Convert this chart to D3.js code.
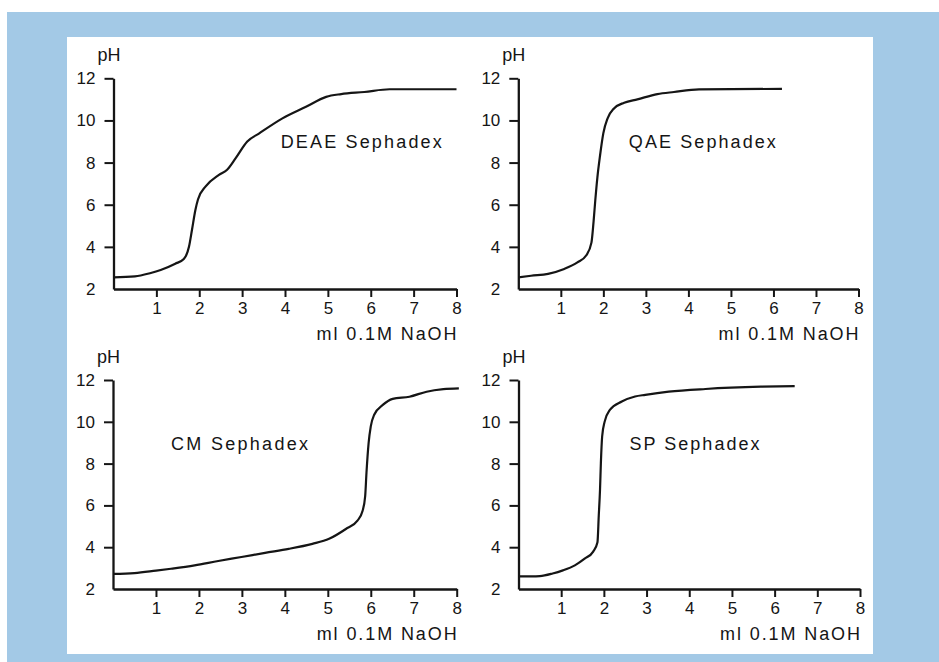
<!DOCTYPE html>
<html>
<head>
<meta charset="utf-8">
<script src="https://cdn.jsdelivr.net/npm/d3@7"></script>
<style>
  html, body { margin: 0; padding: 0; background: #ffffff; }
  svg { display: block; }
  text { font-family: "Liberation Sans", Arial, sans-serif; fill: #151515; }
</style>
</head>
<body>
<svg id="chart" width="939" height="662"></svg>
<script>
// ---- data ----
const panelNames = ["DEAE Sephadex", "QAE Sephadex", "CM Sephadex", "SP Sephadex"];
const xTicks = [1, 2, 3, 4, 5, 6, 7, 8];
const yTicks = [2, 4, 6, 8, 10, 12];
const xLabel = "ml 0.1M NaOH";
const yLabel = "pH";

const deaeML = [0, 0.5, 0.85, 1.1, 1.44, 1.64, 1.76, 1.83, 1.91, 1.97, 2.15, 2.46, 2.65, 2.85, 3.12, 3.4, 3.94, 4.49, 4.96, 5.31, 5.85, 6.44, 8.0];
const deaePH = [2.55, 2.6, 2.75, 2.9, 3.2, 3.42, 4.0, 4.8, 5.75, 6.25, 6.87, 7.42, 7.66, 8.21, 9.0, 9.39, 10.1, 10.65, 11.12, 11.25, 11.35, 11.48, 11.48];

const qaeML = [0, 0.3, 0.7, 1.08, 1.39, 1.6, 1.72, 1.77, 1.81, 1.86, 1.92, 2.0, 2.1, 2.25, 2.49, 2.8, 3.27, 3.66, 4.25, 6.2];
const qaePH = [2.55, 2.63, 2.72, 2.95, 3.26, 3.6, 4.2, 5.2, 6.2, 7.3, 8.3, 9.4, 10.1, 10.57, 10.84, 11.0, 11.25, 11.35, 11.47, 11.5];

const cmML = [0, 0.5, 1.0, 1.35, 1.9, 2.45, 2.99, 3.54, 4.09, 4.64, 5.03, 5.42, 5.69, 5.81, 5.87, 5.9, 5.95, 6.0, 6.08, 6.28, 6.51, 6.9, 7.3, 7.69, 8.05];
const cmPH = [2.72, 2.76, 2.88, 2.97, 3.13, 3.34, 3.53, 3.73, 3.92, 4.16, 4.4, 4.87, 5.27, 5.74, 6.45, 7.56, 8.99, 9.78, 10.34, 10.81, 11.1, 11.2, 11.44, 11.56, 11.6];

const spML = [0, 0.5, 0.8, 1.04, 1.32, 1.55, 1.75, 1.85, 1.88, 1.91, 1.93, 1.96, 2.02, 2.14, 2.42, 2.73, 2.97, 3.52, 4.38, 5.68, 6.47];
const spPH = [2.6, 2.62, 2.74, 2.89, 3.13, 3.45, 3.79, 4.24, 5.5, 6.77, 8.04, 9.31, 10.02, 10.57, 10.97, 11.21, 11.29, 11.44, 11.57, 11.68, 11.71];

const seriesML = [deaeML, qaeML, cmML, spML];
const seriesPH = [deaePH, qaePH, cmPH, spPH];

// label anchor positions in data units (left edge x, centre y)
const labelAt = [[3.9, 9.0], [2.6, 9.0], [1.35, 8.94], [2.6, 8.94]];

// ---- layout ----
const layout = [
  { x0: 113.5, x1: 456.5, yb: 289, yt: 78.3, nameW: 161 },
  { x0: 518.3, x1: 858.5, yb: 289, yt: 78.3, nameW: 147 },
  { x0: 113, x1: 456.7, yb: 589, yt: 380, nameW: 137 },
  { x0: 518.5, x1: 860, yb: 589, yt: 380, nameW: 130 }
];

const svg = d3.select("#chart");
svg.append("rect").attr("x", 7).attr("y", 12).attr("width", 932).attr("height", 650).attr("fill", "#a3c9e6");
svg.append("rect").attr("x", 67).attr("y", 37).attr("width", 806).attr("height", 617).attr("fill", "#ffffff");

const ink = "#151515";

panelNames.forEach((name, i) => {
  const L = layout[i];
  const x = d3.scaleLinear().domain([0, 8]).range([L.x0, L.x1]);
  const y = d3.scaleLinear().domain([2, 12]).range([L.yb, L.yt]);
  const g = svg.append("g");

  // x axis
  const xa = g.append("g")
    .attr("transform", `translate(0,${y(2)})`)
    .call(d3.axisBottom(x).tickValues(xTicks).tickSize(8).tickSizeOuter(0).tickPadding(5).tickFormat(d3.format("d")));
  // y axis
  const ya = g.append("g")
    .attr("transform", `translate(${x(0)},0)`)
    .call(d3.axisLeft(y).tickValues(yTicks).tickSize(9).tickSizeOuter(0).tickPadding(9).tickFormat(d3.format("d")));
  ya.selectAll(".tick").filter(d => d === 2).select("line").remove();

  [xa, ya].forEach(a => {
    a.select(".domain").attr("stroke", ink).attr("stroke-width", 2.3);
    a.selectAll(".tick line").attr("stroke", ink).attr("stroke-width", 2);
    a.selectAll(".tick text").attr("font-size", 17).attr("fill", ink)
      .attr("font-family", "'Liberation Sans', Arial, sans-serif");
  });

  // curve
  const pts = seriesML[i].map((v, k) => [v, seriesPH[i][k]]);
  g.append("path")
    .datum(pts)
    .attr("fill", "none")
    .attr("stroke", ink)
    .attr("stroke-width", 2.2)
    .attr("stroke-linejoin", "round")
    .attr("d", d3.line().x(d => x(d[0])).y(d => y(d[1])).curve(d3.curveMonotoneX));

  // y label
  g.append("text")
    .attr("x", x(0) - 16)
    .attr("y", y(12) - 17)
    .attr("font-size", 18)
    .text(yLabel);

  // x label
  g.append("text")
    .attr("x", x(8) - 140)
    .attr("y", y(2) + 51)
    .attr("font-size", 18)
    .attr("textLength", 140)
    .attr("lengthAdjust", "spacing")
    .text(xLabel);

  // series name
  g.append("text")
    .attr("x", x(labelAt[i][0]))
    .attr("y", y(labelAt[i][1]))
    .attr("dy", "0.35em")
    .attr("font-size", 18)
    .attr("textLength", L.nameW)
    .attr("lengthAdjust", "spacing")
    .text(name);
});
</script>
</body>
</html>
